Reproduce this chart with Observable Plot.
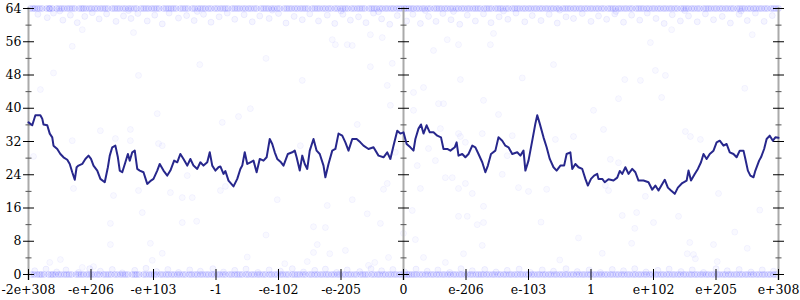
<!DOCTYPE html>
<html><head><meta charset="utf-8">
<script src="https://cdn.jsdelivr.net/npm/d3@7"></script>
<script src="https://cdn.jsdelivr.net/npm/@observablehq/plot@0.6"></script>
<style>body{margin:0;background:#fff} svg{display:block}</style>
</head><body><div id="chart"></div>
<script>
// x is measured in ordinal "tick steps" of the float line: -6 .. 6
const xTickPos = [-6,-5,-4,-3,-2,-1,0,1,2,3,4,5,6];
const xTickLabels = ["-2e+308","-e+206","-e+103","-1","-e-102","-e-205","0","e-206","e-103","1","e+102","e+205","e+308"];
const yMajor = [0,8,16,24,32,40,48,56,64];
const yMinor = [4,12,20,28,36,44,52,60];
const axisPos = [-6, 0, 6];

// averaged error line
const lineX = [-6.00,-5.94,-5.89,-5.81,-5.78,-5.76,-5.70,-5.66,-5.62,-5.60,-5.54,-5.49,-5.44,-5.38,-5.34,-5.30,-5.26,-5.23,-5.20,-5.14,-5.09,-5.04,-5.00,-4.96,-4.90,-4.85,-4.78,-4.73,-4.70,-4.66,-4.61,-4.57,-4.54,-4.50,-4.45,-4.41,-4.38,-4.34,-4.30,-4.26,-4.22,-4.16,-4.10,-4.04,-4.00,-3.94,-3.90,-3.84,-3.78,-3.73,-3.67,-3.62,-3.57,-3.52,-3.46,-3.41,-3.36,-3.30,-3.25,-3.20,-3.14,-3.10,-3.06,-3.01,-2.96,
 -2.93,-2.88,-2.85,-2.80,-2.72,-2.66,-2.61,-2.58,-2.54,-2.50,-2.45,-2.40,-2.35,-2.30,-2.24,-2.19,-2.14,-2.10,-2.06,-2.02,-1.96,-1.92,-1.85,-1.78,-1.74,-1.71,-1.66,-1.62,-1.58,-1.54,-1.50,-1.44,-1.39,-1.34,-1.28,-1.25,-1.20,-1.14,-1.09,-1.04,-0.98,-0.93,-0.88,-0.82,-0.75,-0.69,-0.64,-0.56,-0.48,-0.40,-0.32,-0.26,-0.21,-0.16,-0.10,-0.05,0.00,
 0.05,0.11,0.16,0.19,0.24,0.28,0.32,0.37,0.42,0.48,0.54,0.60,0.64,0.70,0.75,0.82,0.85,0.88,0.94,0.99,1.04,1.10,1.15,1.20,1.26,1.31,1.35,1.40,1.47,1.52,1.58,1.63,1.68,1.74,1.82,1.87,1.92,1.95,2.00,2.06,2.11,2.14,2.18,2.24,2.29,2.34,2.40,2.45,2.51,2.57,2.61,2.67,2.70,2.75,2.80,2.86,2.91,2.95,3.00,3.05,3.10,
 3.12,3.18,3.22,3.28,3.36,3.42,3.46,3.50,3.55,3.60,3.66,3.71,3.76,3.84,3.92,3.98,4.03,4.08,4.14,4.18,4.23,4.28,4.34,4.39,4.46,4.53,4.56,4.60,4.66,4.71,4.76,4.80,4.85,4.90,4.96,5.01,5.06,5.12,5.17,5.22,5.28,5.33,5.38,5.44,5.47,5.51,5.55,5.60,5.63,5.69,5.72,5.77,5.81,5.86,5.91,5.95,6.00];
const lineY = [36.6,35.9,38.3,38.3,37.5,36.1,35.9,33.9,33,31,30.2,29,28.2,27.6,26.6,24.6,22.8,25.8,26.2,26.6,27.8,28.6,27.8,26.2,25,23,22.2,25.8,28.6,30.6,31,28.2,25,24.6,27,29,27.4,29.4,29.8,25.4,25,24.6,21.8,22.6,23,25,26.6,25,23.8,25,27.4,27,29,27.8,26.2,27.8,26.2,25.4,27,26.2,27,29.4,26.2,25,25.8,
 26,24.2,24.9,22.6,21.2,23,25.4,26.2,29.4,26.6,27,27.4,24.6,27.8,27.4,28.2,32.6,31.4,29.4,27.8,27,26.2,29,29.4,29.8,28.2,25,28.6,26.6,25.4,29.8,32.6,29.8,29,26.2,23.4,26.6,29.8,30.2,33.9,33.4,31.8,29.8,32.6,32.6,31.8,31,30.2,30.6,28.6,28.2,29.4,27.8,31,34.6,33.9,34.2,
 31.4,30.6,29.8,32.6,35.1,36.1,33.9,35.9,34.2,34.2,33.4,33,30.2,30.2,29.8,30.6,31.8,28.6,29,28.2,29,31,30.6,29,27,24.6,26.2,29,29.8,33,32.2,31,30.6,29,29.4,28.6,29.8,25,27.4,32.2,36.3,38.3,36.3,33,30.6,27.8,25.8,25,26.2,26.2,29,29.4,25.4,26.6,25.8,25.4,23,21.4,23,23.8,24.2,
 23,23,22.2,22.9,22.6,23.3,24.9,24.2,25.8,24.2,25.4,24.6,22.6,22.6,22.2,20.4,21.4,20.2,21.8,22.8,20.9,20.2,19.4,20.9,22,22.6,25,22.6,24.2,25.4,27,29,27.8,29,29.8,31.8,32.2,31,31.4,29.4,29,28.2,29.8,29.8,27.8,25,23.8,23.4,25,27.4,28.2,30.2,32.6,33.4,32.2,33,32.9];

// sample points whose error is the full 64 bits
const maxX = [-5.97,-5.9,-5.82,-5.71,-5.66,-5.55,-5.47,-5.38,-5.3,-5.19,-5.12,-5.03,-4.94,-4.85,-4.77,-4.66,-4.58,-4.49,-4.4,-4.31,-4.2,-4.12,-4.03,-3.95,-3.84,-3.76,-3.68,-3.57,-3.49,-3.38,-3.29,-3.21,-3.12,-3.02,-2.93,-2.85,-2.74,-2.66,-2.57,-2.48,-2.39,-2.28,-2.2,-2.11,-2.02,-1.91,-1.83,-1.74,-1.65,-1.57,-1.46,-1.38,-1.29,-1.2,-1.1,-1.01,-0.93,-0.83,-0.74,-0.66,-0.55,-0.47,-0.38,-0.29,-0.2,-0.11,-0.03,0.04,0.12,0.21,0.3,0.39,0.49,0.57,0.66,0.75,0.84,0.93,1.02,1.11,1.19,1.29,1.37,1.47,1.55,1.64,1.74,1.82,1.91,2.0,2.09,2.18,2.27,2.36,2.45,2.55,2.63,2.72,2.81,2.9,2.99,3.08,3.17,3.27,3.35,3.44,3.53,3.62,3.72,3.8,3.89,3.98,4.07,4.16,4.25,4.34,4.44,4.52,4.61,4.7,4.8,4.88,4.97,5.06,5.15,5.24,5.34,5.42,5.51,5.6,5.69,5.78,5.88,5.96];
// sample points with zero error
const zeroX = [-5.95,-5.86,-5.79,-5.68,-5.61,-5.52,-5.43,-5.35,-5.24,-5.16,-5.07,-4.99,-4.9,-4.8,-4.72,-4.62,-4.53,-4.45,-4.34,-4.27,-4.16,-4.07,-3.99,-3.89,-3.8,-3.71,-3.62,-3.53,-3.43,-3.34,-3.25,-3.16,-3.07,-2.98,-2.89,-2.79,-2.7,-2.62,-2.52,-2.43,-2.34,-2.25,-2.15,-2.06,-1.97,-1.88,-1.78,-1.7,-1.61,-1.51,-1.42,-1.33,-1.24,-1.15,-1.06,-0.97,-0.88,-0.79,-0.69,-0.61,-0.51,-0.42,-0.33,-0.24,-0.15,-0.06,0.02,0.09,0.17,0.26,0.35,0.44,0.53,0.62,0.71,0.8,0.89,0.98,1.07,1.16,1.24,1.33,1.42,1.51,1.6,1.69,1.78,1.87,1.96,2.05,2.14,2.23,2.32,2.41,2.5,2.59,2.68,2.77,2.86,2.95,3.04,3.13,3.22,3.31,3.4,3.49,3.58,3.67,3.76,3.85,3.94,4.03,4.12,4.21,4.3,4.39,4.48,4.57,4.66,4.75,4.84,4.93,5.02,5.11,5.2,5.29,5.38,5.47,5.56,5.65,5.74,5.83,5.92];
// sample points close to the two limits [x, bits of error]
const nearTop = [[-5.85,62.6],[-5.7,61.8],[-5.6,62.9],[-5.45,61.2],[-5.33,62.4],[-5.22,60.6],[-5.1,62.1],[-4.98,63.0],[-4.87,61.5],[-4.75,62.7],[-4.6,60.9],[-4.48,62.2],[-4.36,61.6],[-4.25,62.8],[-4.1,61.0],[-3.98,62.4],[-3.86,60.3],[-3.75,62.9],[-3.6,61.7],[-3.47,62.3],[-3.35,61.1],[-3.2,62.6],[-3.08,60.7],[-2.95,62.0],[-2.82,62.9],[-2.7,61.4],[-2.55,62.5],[-2.42,60.8],[-2.3,62.2],[-2.15,61.6],[-2.0,62.8],[-1.88,60.5],[-1.75,62.1],[-1.62,61.3],[-1.5,62.7],[-1.36,61.0],[-1.22,62.4],[-1.1,60.4],[-0.97,62.6],[-0.85,61.2],[-0.72,62.0],[-0.6,60.6],[-0.48,62.9],[-0.35,61.5],[-0.22,60.2],[-0.1,62.3],[0.05,61.0],[0.15,62.6],[0.27,60.4],[0.4,62.1],[0.52,60.9],[0.63,62.8],[0.76,61.3],[0.9,60.2],[1.02,62.4],[1.15,61.0],[1.28,62.7],[1.4,60.6],[1.53,62.0],[1.67,61.4],[1.8,62.9],[1.94,60.8],[2.06,62.3],[2.2,61.1],[2.33,62.6],[2.46,60.5],[2.6,62.0],[2.72,61.6],[2.86,62.8],[3.0,60.9],[3.12,62.2],[3.25,61.4],[3.38,62.7],[3.52,60.7],[3.65,62.4],[3.78,61.2],[3.9,62.9],[4.04,61.6],[4.17,60.4],[4.3,62.5],[4.43,61.0],[4.56,62.2],[4.7,60.8],[4.83,62.7],[4.96,61.3],[5.1,62.1],[5.23,60.5],[5.37,62.6],[5.5,61.1],[5.63,62.9],[5.77,60.9],[5.9,62.3],
 [-5.5,63.4],[-4.4,63.5],[-3.3,63.3],[-2.1,63.6],[-1.0,63.4],[-0.4,63.2],[0.35,63.5],[0.8,63.3],[1.6,63.4],[2.5,63.6],[3.4,63.3],[4.5,63.5],[5.4,63.4]];
const nearZero = [[-5.9,0.9],[-5.72,1.3],[-5.55,0.6],[-5.4,1.1],[-5.2,0.5],[-5.02,1.4],[-4.85,0.8],[-4.66,1.2],[-4.5,0.4],[-4.3,1.0],[-4.12,1.5],[-3.95,0.7],[-3.77,1.2],[-3.6,0.5],[-3.42,1.1],[-3.25,0.8],[-3.05,1.4],[-2.88,0.6],[-2.7,1.0],[-2.52,1.3],[-2.33,0.5],[-2.15,1.1],[-1.97,0.8],[-1.78,1.4],[-1.6,0.6],[-1.42,1.0],[-1.25,1.3],[-1.07,0.5],[-0.9,1.1],[-0.7,0.7],[-0.52,1.4],[-0.35,0.9],[-0.17,1.2],[0.02,0.6],[0.2,1.3],[0.38,0.8],[0.55,1.1],[0.74,0.5],[0.92,1.4],[1.1,0.9],[1.3,1.2],[1.48,0.6],[1.66,1.0],[1.85,1.3],[2.03,0.5],[2.22,1.1],[2.4,0.8],[2.6,1.4],[2.78,0.7],[2.97,1.1],[3.15,0.5],[3.34,1.2],[3.52,0.9],[3.7,1.4],[3.88,0.6],[4.07,1.0],[4.25,1.3],[4.44,0.7],[4.62,1.1],[4.8,0.5],[5.0,1.4],[5.18,0.9],[5.37,1.2],[5.56,0.6],[5.74,1.1],[5.92,0.8]];
// sparse sample points in between [x, bits of error]
const scattered = [[-5.81,44.5],[-4.24,47.9],[-5.30,54.9],[-4.32,58.2],[-5.14,58.9],[-3.26,50.5],
 [-5.66,2.9],[-5.49,3.6],[-4.69,12.3],[-4.69,7.2],[-4.18,14.9],[-4.05,7.5],[-3.86,5.1],[-4.02,3.4],[-3.54,12.5],[-3.31,12.8],[-5.14,1.7],[-4.96,1.9],
 [-1.22,16.6],[-0.58,14.6],[-1.44,11.5],[-1.25,11.3],[-0.37,12.3],[-1.38,7.2],[-1.44,5.3],[-1.18,5.0],[-0.93,5.8],[-1.54,3.1],[-0.46,2.9],[-0.56,2.2],[-0.24,4.1],[0.19,8.4],[0.14,15.4],[0,9.9],[0.32,4.1],[0.67,2.9],[0.88,14],[1.02,14],[1.18,12],[1.28,12.5],[1.26,7],[0.96,5],[1.28,16.4],
 [3.50,14.2],[3.73,14.9],[4.40,14],[4.0,12.5],[3.70,11.1],[3.65,7.5],[4.58,7.7],[4.96,7.2],[4.54,5],[4.64,4.8],[4.67,3.8],[5.02,3.1],[5.50,6.3],[3.18,5.1],
 [3.95,55.8],[4.03,49.1],[4.19,47.9],[3.54,46.9],[3.79,46.7],[5.46,44.8],[5.58,57.7],[3.44,42.3],[4.13,42.6],[4.29,58.9],
 [-1.62,46.7],[-0.53,50],[-0.26,45.5],[0.16,43.8],[0.32,45],[0.91,46.9],[-0.18,50.8],[0.48,53.9],[0.88,55.3],[1.39,55.3],[-1.09,55.3],[-0.90,55.3],[-1.14,56.5],[0.70,56.5],[1.44,58],[-0.82,55.1],[-0.34,57],[-0.53,57.7],
 [-3.94,38.7],[-4.85,34.6],[-5.30,32.2],[-4.37,34.9],[-4.37,32.2],[-4.61,32.7],[-5.92,28.4],[-3.92,31.5],[-3.86,31],[-5.28,20.7],[-3.46,23.8],[-4.64,19],[-4.24,20.2],[-3.73,19.7],[-3.54,18.5],[-3.38,18.5],
 [-2.90,36.6],[-2.64,38],[-2.45,39.9],[-1.65,31],[-0.74,36.1],[-0.21,40.7],[-0.13,29.4],[-0.26,21.9],[-0.32,20.5],[-2.93,20.2],[-2.85,21.2],[-2.02,18],[-0.82,18],
 [0.16,39.5],[0.56,41.1],[0.64,41.1],[1.28,41.9],[1.52,38.5],[1.26,33.9],[0.59,35.1],[0.88,33.9],[0.91,33.2],[0.99,31.8],[1.74,33.4],[2.43,32.5],[2.72,33.2],[3.04,39.5],[1.66,28.6],[0.22,26.2],[0.51,27.4],[0.40,30.3],[0.67,23.3],[0.78,23.3],[0.99,21.9],[1.58,24.1],[0.27,20.7],[0.88,20.7],[1.10,19.5],[1.84,20.9],[2.00,20],[2.29,20.5],
 [3.20,34.9],[4.51,34.4],[4.59,33.2],[4.75,32.5],[3.31,27.7],[3.44,26.9],[3.28,20.2],[3.23,21.4],[3.87,18.8],[5.04,19.5],
 [-2.5,4.2],[-2.2,9.5],[-1.9,2.6],[2.5,3.5],[2.8,8.8],[2.2,12.6],[5.7,15.5],[5.3,10.2],[-5.6,48.5],[-2.2,52],[2.4,50.5],[1.9,47.3]];

const bandSamples = [
  ...maxX.map(x => ({x, y: 64})),
  ...zeroX.map(x => ({x, y: 0})),
  ...maxX.map((x, i) => ({x: x + 0.04, y: 64})),
  ...zeroX.map((x, i) => ({x: x + 0.04, y: 0}))
];
const nearSamples = [
  ...nearTop.map(([x, y]) => ({x, y})),
  ...nearZero.map(([x, y]) => ({x, y}))
];
const sparseSamples = scattered.map(([x, y]) => ({x, y}));
const line = lineX.map((x, i) => ({x, y: lineY[i]}));
const majorTicks = axisPos.flatMap(x => yMajor.map(y => ({x, y})));
const minorTicks = axisPos.flatMap(x => yMinor.map(y => ({x, y})));

const hTick = {draw(ctx, size) { const r = Math.sqrt(size / Math.PI); ctx.moveTo(-r, 0); ctx.lineTo(r, 0); }};
const vTick = {draw(ctx, size) { const r = Math.sqrt(size / Math.PI); ctx.moveTo(0, -r); ctx.lineTo(0, r); }};

const font = "DejaVu Serif";
const chart = Plot.plot({
  width: 800, height: 300,
  marginLeft: 28, marginRight: 22, marginTop: 8, marginBottom: 26,
  style: {fontFamily: font, fontSize: "12.5px", background: "#fff", color: "#000"},
  x: {domain: [-6, 6], label: null},
  y: {domain: [0, 64], label: null},
  marks: [
    Plot.dot(sparseSamples, {x: "x", y: "y", r: 3, fill: "blue", fillOpacity: 0.025, stroke: "blue", strokeOpacity: 0.04, strokeWidth: 1}),
    Plot.dot(nearSamples, {x: "x", y: "y", r: 3, fill: "blue", fillOpacity: 0.04, stroke: "blue", strokeOpacity: 0.06, strokeWidth: 1}),
    Plot.dot(bandSamples, {x: "x", y: "y", r: 3, fill: "blue", fillOpacity: 0.07, stroke: "blue", strokeOpacity: 0.1, strokeWidth: 1}),
    Plot.ruleX(axisPos, {stroke: "#aaa", strokeWidth: 2, insetBottom: -6, insetTop: -1}),
    Plot.dot(minorTicks, {x: "x", y: "y", r: 3, symbol: hTick, stroke: "#555", fill: "none", strokeWidth: 1}),
    Plot.dot(majorTicks, {x: "x", y: "y", r: 5.5, symbol: hTick, stroke: "#000", fill: "none", strokeWidth: 1}),
    Plot.dot(xTickPos, {x: d => d, y: () => 0, r: 5.5, symbol: vTick, stroke: "#000", fill: "none", strokeWidth: 1}),
    Plot.line(line, {x: "x", y: "y", stroke: "#27278c", strokeWidth: 2}),
    Plot.axisX({ticks: xTickPos, tickFormat: (d, i) => xTickLabels[i], tickSize: 0, tickPadding: 11, fontSize: 12.5, label: null}),
    Plot.axisY({ticks: yMajor, tickSize: 0, tickPadding: 7, fontSize: 12.5, label: null})
  ]
});
document.getElementById("chart").appendChild(chart);
</script>
</body></html>
